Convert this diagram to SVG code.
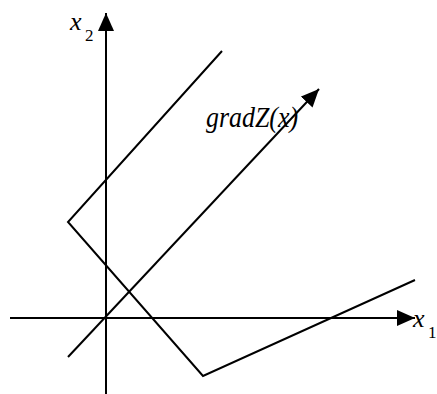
<svg xmlns="http://www.w3.org/2000/svg" width="437" height="394" viewBox="0 0 437 394">
<style>
.ln{stroke:#000;stroke-width:2;fill:none}
.lbl{font-family:"Liberation Serif","DejaVu Serif","Times New Roman",serif;fill:#000}
</style>
<defs>
<marker id="ah" markerUnits="userSpaceOnUse" markerWidth="18" markerHeight="16" viewBox="0 0 18 16" refX="18" refY="8" orient="auto">
<path d="M0,0 L18,8 L0,16 Z" fill="#000"/>
</marker>
</defs>
<rect width="437" height="394" fill="#fff"/>
<g id="connectors">
<line id="axis-x1" class="ln" x1="10" y1="318" x2="415" y2="318" marker-end="url(#ah)"/>
<line id="axis-x2" class="ln" x1="106" y1="394" x2="106" y2="13" marker-end="url(#ah)"/>
<line id="grad" class="ln" x1="68" y1="357" x2="319" y2="89" marker-end="url(#ah)"/>
<polyline id="boundary" class="ln" points="222,51 68,222 203,376 415,280"/>
</g>
<g id="label-x2" class="lbl">
<text x="70" y="30" font-size="26" font-style="italic">x</text>
<text x="85" y="41" font-size="17">2</text>
</g>
<g id="label-x1" class="lbl">
<text x="413" y="327" font-size="26" font-style="italic">x</text>
<text x="428" y="338" font-size="17">1</text>
</g>
<g id="label-grad" class="lbl">
<text x="206" y="127" font-size="29" font-style="italic" textLength="92" lengthAdjust="spacingAndGlyphs">gradZ(x)</text>
</g>
</svg>
